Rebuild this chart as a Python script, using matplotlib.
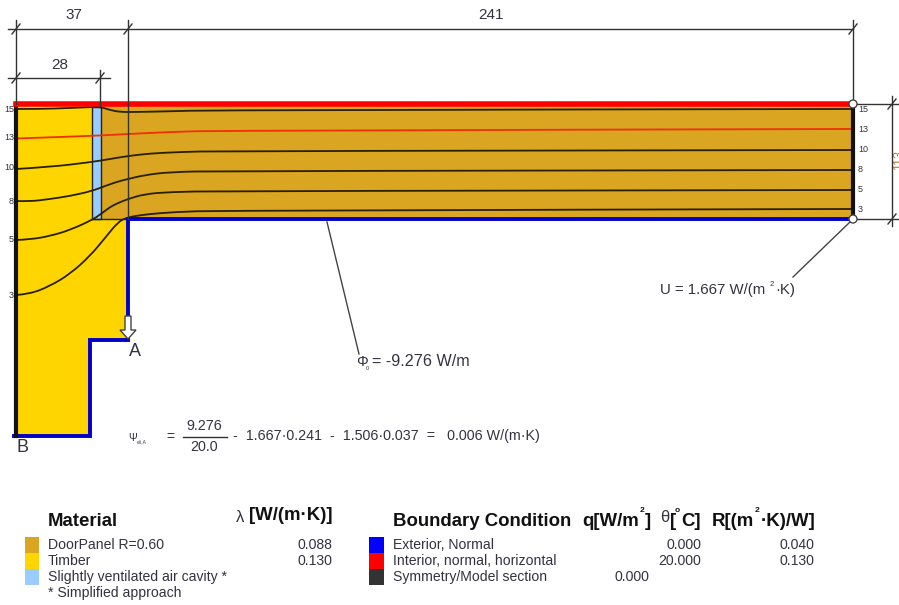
import matplotlib
matplotlib.use("Agg")
import matplotlib.pyplot as plt
from matplotlib.patches import Polygon, Rectangle, Circle, PathPatch
from matplotlib.path import Path

plt.rcParams['font.family'] = ['Liberation Sans', 'DejaVu Sans']

# ---- geometry (pixel space) ----
timber_x = [16, 92, 92, 128, 128, 90, 90, 16]
timber_y = [106, 106, 219, 219, 340, 340, 435, 435]
panel_x = [101, 853, 853, 101]
panel_y = [106, 106, 219, 219]
air_x = [92, 101, 101, 92]
air_y = [107, 107, 219, 219]
blue_x = [853, 128, 128, 90, 90, 14]
blue_y = [219, 219, 340, 340, 436, 436]

# ---- isotherms ----
iso_values = ['15', '13', '10', '8', '5', '3']
iso15_x = [16, 40, 70, 92, 101, 110, 120, 135, 160, 220, 853]
iso15_y = [109, 109, 108, 107, 107, 110, 112, 112, 111.5, 110, 109]
iso13_x = [16, 60, 100, 128, 170, 220, 853]
iso13_y = [138.5, 137, 135.5, 134, 132, 130.5, 129]
iso10_x = [16, 50, 92, 110, 128, 150, 180, 220, 853]
iso10_y = [169, 167, 162, 159, 156, 153.5, 152, 151, 150]
iso8_x = [16, 30, 50, 70, 92, 105, 118, 128, 145, 170, 220, 853]
iso8_y = [201, 201.5, 199, 196, 191, 186, 181.5, 179, 175, 172, 171, 170]
iso5_x = [16, 30, 50, 70, 92, 101, 110, 118, 128, 145, 170, 220, 853]
iso5_y = [240, 239.5, 236, 230, 220, 214, 207, 203, 199, 194, 192, 191, 190]
iso3_x = [16, 30, 50, 70, 90, 105, 118, 126, 135, 150, 175, 220, 853]
iso3_y = [295, 294, 286, 274, 256, 238, 222, 218, 216, 214, 212, 210.5, 209]
left_label_y = [110, 138, 168, 201, 240, 295]
right_label_y = [109, 129, 149, 170, 189, 209]

# ---- legend content ----
material_names = ['DoorPanel R=0.60', 'Timber', 'Slightly ventilated air cavity *']
material_lambda = ['0.088', '0.130', '']
bc_names = ['Exterior, Normal', 'Interior, normal, horizontal', 'Symmetry/Model section']
bc_q = ['', '', '0.000']
bc_theta = ['0.000', '20.000', '']
bc_r = ['0.040', '0.130', '']

GOLD, YEL, SKY = '#DAA520', '#FFD500', '#99CCFF'
BLUE, RED, DARK = '#0000C8', '#FF0000', '#111111'
TXT = '#333340'
BOLD = '#111111'

fig = plt.figure(figsize=(8.99, 6.05), dpi=100)
ax = fig.add_axes([0, 0, 1, 1])
ax.set_xlim(0, 899)
ax.set_ylim(605, 0)
ax.axis('off')


def smooth_path(xs, ys):
    """Quadratic curve using the read points as control points."""
    pts = list(zip(xs, ys))
    verts = [pts[0]]
    codes = [Path.MOVETO]
    for i in range(1, len(pts) - 2):
        mid = ((pts[i][0] + pts[i + 1][0]) / 2, (pts[i][1] + pts[i + 1][1]) / 2)
        verts += [pts[i], mid]
        codes += [Path.CURVE3, Path.CURVE3]
    verts += [pts[-2], pts[-1]]
    codes += [Path.CURVE3, Path.CURVE3]
    return Path(verts, codes)


ax.add_patch(Polygon(list(zip(timber_x, timber_y)), fc=YEL, ec='none', zorder=1))
ax.add_patch(Polygon(list(zip(panel_x, panel_y)), fc=GOLD, ec='none', zorder=1))
ax.add_patch(Polygon(list(zip(air_x, air_y)), fc=SKY, ec='#222222', lw=1, zorder=1.5))

isos = [(iso15_x, iso15_y, '#2A2000'), (iso13_x, iso13_y, '#F03000'),
        (iso10_x, iso10_y, '#2A2000'), (iso8_x, iso8_y, '#2A2000'),
        (iso5_x, iso5_y, '#2A2000'), (iso3_x, iso3_y, '#2A2000')]
for x, y, c in isos:
    ax.add_patch(PathPatch(smooth_path(x, y), fc='none', ec=c, lw=1.3, zorder=2))

# panel lower edge under the air cavity, boundaries
ax.plot([92, 128], [219, 219], color='#222222', lw=1, zorder=2)
ax.plot(blue_x, blue_y, color=BLUE, lw=2.8, zorder=3, solid_joinstyle='miter')
ax.plot([16, 16], [104, 436], color=DARK, lw=3, zorder=3.5)
ax.plot([853, 853], [106, 219], color=DARK, lw=3, zorder=3.5)
ax.plot([16, 853], [104, 104], color=RED, lw=4, zorder=4)

# dimension lines
DIM = '#333333'
segs = [([8, 853], [29, 29]), ([16, 16], [20, 104]), ([128, 128], [20, 219]),
        ([853, 853], [20, 104]), ([8, 110], [78, 78]), ([100, 100], [70, 106]),
        ([853, 899], [104, 104]), ([853, 899], [219, 219]), ([892, 892], [96, 226])]
for sx, sy in segs:
    ax.plot(sx, sy, color=DIM, lw=1, zorder=5)
ticks = [(16, 29), (128, 29), (853, 29), (16, 78), (100, 78), (892, 104), (892, 219)]
for tx, ty in ticks:
    ax.plot([tx - 4, tx + 4], [ty + 5, ty - 5], color=DIM, lw=1, zorder=5)
ax.text(74, 15, '37', ha='center', va='center', fontsize=11, color=TXT)
ax.text(60, 65, '28', ha='center', va='center', fontsize=11, color=TXT)
ax.text(491, 15, '241', ha='center', va='center', fontsize=11, color=TXT)
ax.text(899, 160, '113', ha='center', va='center', fontsize=9, color='#B8803A',
        rotation=90, clip_on=True)

# isotherm labels
for v, ly in zip(iso_values, left_label_y):
    ax.text(14, ly, v, ha='right', va='center', fontsize=6.5, color=TXT, zorder=6)
for v, ly in zip(iso_values, right_label_y):
    ax.text(858, ly, v, ha='left', va='center', fontsize=6.5, color=TXT, zorder=6)

# end circles and leaders
for cy in [104, 219]:
    ax.add_patch(Circle((853, cy), 4, fc='white', ec='#444444', lw=1, zorder=7))
ax.plot([850, 793], [222, 277], color='#444444', lw=1, zorder=5)
ax.plot([327, 359], [222, 354], color='#444444', lw=1, zorder=5)
ax.text(660, 290, 'U = 1.667 W/(m', ha='left', va='center', fontsize=10.8, color=TXT)
ax.text(770, 284, '2', ha='left', va='center', fontsize=5.5, color=TXT)
ax.text(775, 290, '·K)', ha='left', va='center', fontsize=10.8, color=TXT)
ax.text(356, 362, 'Φ', ha='left', va='center', fontsize=10.5, color=TXT)
ax.text(366, 369, '0', ha='left', va='center', fontsize=4, color=TXT)
ax.text(372, 361, '= -9.276 W/m', ha='left', va='center', fontsize=11.6, color=TXT)

# arrow and point labels
arrow_x = [125, 125, 120, 128, 136, 131, 131]
arrow_y = [316, 330, 330, 339, 330, 330, 316]
ax.add_patch(Polygon(list(zip(arrow_x, arrow_y)), fc='white', ec='#444444', lw=1, zorder=7))
ax.text(135, 351, 'A', ha='center', va='center', fontsize=13, color=TXT)
ax.text(22, 447, 'B', ha='center', va='center', fontsize=13, color=TXT)

# formula
ax.text(128, 438, 'Ψ', ha='left', va='center', fontsize=7.5, color=TXT)
ax.text(137, 442, 'e/i,A', ha='left', va='center', fontsize=3.5, color=TXT)
ax.text(170, 437, '=', ha='center', va='center', fontsize=10, color=TXT)
ax.text(204, 426, '9.276', ha='center', va='center', fontsize=10.3, color=TXT)
ax.plot([183, 227], [437, 437], color='#333333', lw=1)
ax.text(204, 447, '20.0', ha='center', va='center', fontsize=10.3, color=TXT)
ax.text(233, 436, '-  1.667·0.241  -  1.506·0.037  =   0.006 W/(m·K)',
        ha='left', va='center', fontsize=10.3, color=TXT)

# legend: material
HS = 13.4
RS = 10.1
ax.text(48, 521, 'Material', ha='left', va='center', fontsize=HS, fontweight='bold', color=BOLD)
ax.text(236, 517, 'λ', ha='left', va='center', fontsize=12, color=TXT)
ax.text(332, 516, '[W/(m·K)]', ha='right', va='center', fontsize=HS, fontweight='bold', color=BOLD)
row_y = [545, 561, 577]
for c, name, lam, y in zip([GOLD, YEL, SKY], material_names, material_lambda, row_y):
    ax.add_patch(Rectangle((25, y - 8), 14, 15.5, fc=c, ec='none'))
    ax.text(48, y, name, ha='left', va='center', fontsize=RS, color=TXT)
    ax.text(332, y, lam, ha='right', va='center', fontsize=RS, color=TXT)
ax.text(48, 593, '* Simplified approach', ha='left', va='center', fontsize=RS, color=TXT)

# legend: boundary conditions
ax.text(393, 521, 'Boundary Condition', ha='left', va='center', fontsize=HS, fontweight='bold', color=BOLD)
ax.text(582, 521, 'q[W/m', ha='left', va='center', fontsize=HS, fontweight='bold', color=BOLD)
ax.text(640, 510, '2', ha='left', va='center', fontsize=6, fontweight='bold', color=BOLD)
ax.text(645, 521, ']', ha='left', va='center', fontsize=HS, fontweight='bold', color=BOLD)
ax.text(660, 517, 'θ', ha='left', va='center', fontsize=12, color=TXT)
ax.text(670, 521, '[', ha='left', va='center', fontsize=HS, fontweight='bold', color=BOLD)
ax.text(675, 510, 'o', ha='left', va='center', fontsize=6, fontweight='bold', color=BOLD)
ax.text(681, 521, 'C]', ha='left', va='center', fontsize=HS, fontweight='bold', color=BOLD)
ax.text(712, 521, 'R[(m', ha='left', va='center', fontsize=HS, fontweight='bold', color=BOLD)
ax.text(755, 510, '2', ha='left', va='center', fontsize=6, fontweight='bold', color=BOLD)
ax.text(761, 521, '·K)/W]', ha='left', va='center', fontsize=HS, fontweight='bold', color=BOLD)
for c, name, q, th, r, y in zip(['#0000FF', RED, '#333333'], bc_names, bc_q, bc_theta, bc_r, row_y):
    ax.add_patch(Rectangle((369, y - 8), 15, 15.5, fc=c, ec='none'))
    ax.text(393, y, name, ha='left', va='center', fontsize=RS, color=TXT)
    ax.text(649, y, q, ha='right', va='center', fontsize=RS, color=TXT)
    ax.text(701, y, th, ha='right', va='center', fontsize=RS, color=TXT)
    ax.text(814, y, r, ha='right', va='center', fontsize=RS, color=TXT)

fig.savefig('out.png', dpi=100)
